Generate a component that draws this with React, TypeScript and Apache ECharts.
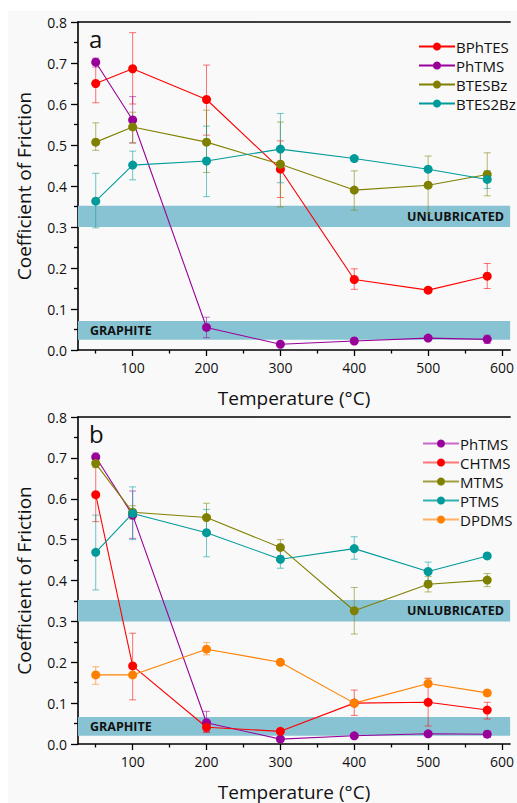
import React, { useEffect, useRef } from "react";
import * as echarts from "echarts";

const temps = [50, 100, 200, 300, 400, 500, 580];
const majorTicks = [100, 200, 300, 400, 500, 600];
const minorTicks = [50, 150, 250, 350, 450, 550];

// Panel a
const bphtes = [0.65, 0.686, 0.611, 0.441, 0.172, 0.146, 0.18];
const bphtesLo = [0.603, 0.6, 0.524, 0.372, 0.148, 0.14, 0.15];
const bphtesHi = [0.7, 0.774, 0.695, 0.51, 0.198, 0.152, 0.211];
const phtmsA = [0.702, 0.561, 0.055, 0.014, 0.022, 0.029, 0.026];
const phtmsALo = [0.69, 0.505, 0.03, 0.01, 0.018, 0.024, 0.016];
const phtmsAHi = [0.712, 0.618, 0.08, 0.018, 0.026, 0.034, 0.036];
const btesbz = [0.507, 0.544, 0.507, 0.453, 0.39, 0.402, 0.428];
const btesbzLo = [0.487, 0.505, 0.433, 0.349, 0.341, 0.333, 0.376];
const btesbzHi = [0.554, 0.58, 0.585, 0.556, 0.437, 0.473, 0.481];
const btes2bz = [0.363, 0.451, 0.461, 0.49, 0.467, 0.441, 0.416];
const btes2bzLo = [0.298, 0.415, 0.374, 0.408, 0.462, 0.437, 0.394];
const btes2bzHi = [0.431, 0.485, 0.546, 0.577, 0.472, 0.445, 0.437];

// Panel b
const phtmsB = [0.702, 0.56, 0.052, 0.012, 0.02, 0.025, 0.024];
const phtmsBLo = [0.692, 0.503, 0.03, 0.008, 0.016, 0.02, 0.016];
const phtmsBHi = [0.712, 0.619, 0.08, 0.016, 0.024, 0.03, 0.032];
const chtms = [0.61, 0.191, 0.041, 0.031, 0.1, 0.102, 0.083];
const chtmsLo = [0.544, 0.108, 0.028, 0.026, 0.07, 0.044, 0.061];
const chtmsHi = [0.685, 0.271, 0.052, 0.036, 0.132, 0.161, 0.102];
const mtms = [0.686, 0.567, 0.554, 0.481, 0.326, 0.391, 0.401];
const mtmsLo = [0.676, 0.55, 0.52, 0.46, 0.269, 0.372, 0.385];
const mtmsHi = [0.696, 0.583, 0.589, 0.5, 0.383, 0.41, 0.417];
const ptms = [0.469, 0.564, 0.517, 0.452, 0.478, 0.422, 0.46];
const ptmsLo = [0.377, 0.5, 0.458, 0.43, 0.452, 0.4, 0.455];
const ptmsHi = [0.56, 0.629, 0.574, 0.475, 0.507, 0.445, 0.465];
const dpdms = [0.169, 0.169, 0.232, 0.2, 0.1, 0.148, 0.125];
const dpdmsLo = [0.146, 0.165, 0.218, 0.196, 0.095, 0.14, 0.12];
const dpdmsHi = [0.189, 0.173, 0.248, 0.204, 0.105, 0.16, 0.13];

const unlubBand = [0.3, 0.352];
const graphiteBandA = [0.025, 0.071];
const graphiteBandB = [0.02, 0.066];

const FONT = "'Open Sans', 'Noto Sans', sans-serif";
const RED = "#ff0000";
const PURPLE = "#990099";
const OLIVE = "#808000";
const TEAL = "#009a9a";
const ORANGE = "#ff8000";
const BAND = "#88c3d3";

export default function App() {
  const ref = useRef<HTMLDivElement>(null);
  useEffect(() => {
    if (!ref.current) return;
    const chart = echarts.init(ref.current, null, { renderer: "svg" });

    const X_MIN = 26;
    const X_MAX = 611;

    const mkX = (gridIndex: number) => [
      {
        type: "value",
        gridIndex,
        min: X_MIN,
        max: X_MAX,
        position: "bottom",
        name: "Temperature (°C)",
        nameLocation: "middle",
        nameGap: 38,
        nameTextStyle: { fontFamily: FONT, fontSize: 19, color: "#111" },
        axisLine: { show: true, lineStyle: { color: "#000", width: 1.6 } },
        axisTick: { show: true, inside: false, length: 6, customValues: majorTicks, lineStyle: { color: "#000", width: 1.3 } },
        axisLabel: { show: true, customValues: majorTicks, margin: 10, fontFamily: FONT, fontSize: 14, color: "#111" },
        splitLine: { show: false },
      },
      {
        type: "value",
        gridIndex,
        min: X_MIN,
        max: X_MAX,
        position: "bottom",
        axisLine: { show: false },
        axisTick: { show: true, inside: false, length: 3.5, customValues: minorTicks, lineStyle: { color: "#000", width: 1.3 } },
        axisLabel: { show: false },
        splitLine: { show: false },
      },
      {
        type: "value",
        gridIndex,
        min: X_MIN,
        max: X_MAX,
        position: "top",
        axisLine: { show: true, lineStyle: { color: "#000", width: 1.6 } },
        axisTick: { show: false },
        axisLabel: { show: false },
        splitLine: { show: false },
      },
    ];

    const mkY = (gridIndex: number) => ({
      type: "value",
      gridIndex,
      min: 0,
      max: 0.8,
      interval: 0.1,
      name: "Coefficient of Friction",
      nameLocation: "middle",
      nameGap: 45,
      nameTextStyle: { fontFamily: FONT, fontSize: 19, color: "#111" },
      axisLine: { show: true, lineStyle: { color: "#000", width: 1.6 } },
      axisTick: { show: true, inside: false, length: 7, lineStyle: { color: "#000", width: 1.3 } },
      minorTick: { show: true, splitNumber: 2, length: 4, lineStyle: { color: "#000", width: 1.3 } },
      axisLabel: { margin: 11, fontFamily: FONT, fontSize: 14, color: "#111", formatter: (v: number) => v.toFixed(1) },
      splitLine: { show: false },
    });

    const lineSeries = (name: string, data: number[], color: string, xi: number, yi: number) => ({
      type: "line",
      name,
      xAxisIndex: xi,
      yAxisIndex: yi,
      data: temps.map((t, i) => [t, data[i]]),
      symbol: "circle",
      symbolSize: 9,
      itemStyle: { color },
      lineStyle: { color, width: 1.1 },
      z: 4,
    });

    const errSeries = (name: string, lo: number[], hi: number[], color: string, xi: number, yi: number) => ({
      type: "custom",
      name: name + " error",
      xAxisIndex: xi,
      yAxisIndex: yi,
      z: 3,
      data: temps.map((t, i) => [t, lo[i], hi[i]]),
      encode: { x: 0, y: [1, 2] },
      renderItem: (params: any, api: any) => {
        const x = api.value(0);
        const p1 = api.coord([x, api.value(2)]);
        const p2 = api.coord([x, api.value(1)]);
        const w = 3.5;
        const style = { stroke: color, lineWidth: 1, opacity: 0.55 };
        return {
          type: "group",
          children: [
            { type: "line", shape: { x1: p1[0], y1: p1[1], x2: p2[0], y2: p2[1] }, style },
            { type: "line", shape: { x1: p1[0] - w, y1: p1[1], x2: p1[0] + w, y2: p1[1] }, style },
            { type: "line", shape: { x1: p2[0] - w, y1: p2[1], x2: p2[0] + w, y2: p2[1] }, style },
          ],
        };
      },
    });

    const bandSeries = (xi: number, yi: number, graphite: number[]) => ({
      type: "line",
      name: "bands" + xi,
      xAxisIndex: xi,
      yAxisIndex: yi,
      data: [],
      z: 1,
      markArea: {
        silent: true,
        itemStyle: { color: BAND },
        label: { fontFamily: FONT, fontWeight: "bold", fontSize: 12.5, color: "#111" },
        data: [
          [
            { yAxis: unlubBand[0], name: "UNLUBRICATED", label: { position: "insideRight", distance: 6 } },
            { yAxis: unlubBand[1] },
          ],
          [
            { yAxis: graphite[0], name: "GRAPHITE", label: { position: "insideLeft", distance: 12 } },
            { yAxis: graphite[1] },
          ],
        ],
      },
    });

    const legendBase = {
      orient: "vertical",
      left: 413,
      itemWidth: 36,
      itemHeight: 10,
      itemGap: 4,
      textStyle: { fontFamily: FONT, fontSize: 15, color: "#111", padding: [0, 0, 0, -4] },
    };

    chart.setOption({
      animation: false,
      backgroundColor: "transparent",
      graphic: [
        { type: "rect", left: 8, top: 11, z: -10, shape: { width: 509, height: 792 }, style: { fill: "#f9f9f9" } },
        { type: "text", left: 89, top: 26, style: { text: "a", fontFamily: FONT, fontSize: 24, fill: "#111" } },
        { type: "text", left: 89, top: 421, style: { text: "b", fontFamily: FONT, fontSize: 24, fill: "#111" } },
      ],
      grid: [
        { left: 78, top: 22, width: 439, height: 328 },
        { left: 78, top: 417, width: 439, height: 327 },
      ],
      xAxis: [...mkX(0), ...mkX(1)],
      yAxis: [mkY(0), mkY(1)],
      legend: [
        { ...legendBase, top: 34, data: ["BPhTES", "PhTMS", "BTESBz", "BTES2Bz"] },
        {
          ...legendBase,
          top: 431,
          left: 417,
          data: [
            { name: "PhTMS", lineStyle: { color: "#cc66cc" } },
            { name: "CHTMS", lineStyle: { color: "#ff7777" } },
            { name: "MTMS", lineStyle: { color: "#a0a040" } },
            { name: "PTMS", lineStyle: { color: "#33b0b0" } },
            { name: "DPDMS", lineStyle: { color: "#ffb066" } },
          ],
        },
      ],
      series: [
        bandSeries(0, 0, graphiteBandA),
        bandSeries(3, 1, graphiteBandB),
        errSeries("BPhTES", bphtesLo, bphtesHi, RED, 0, 0),
        errSeries("PhTMS a", phtmsALo, phtmsAHi, PURPLE, 0, 0),
        errSeries("BTESBz", btesbzLo, btesbzHi, OLIVE, 0, 0),
        errSeries("BTES2Bz", btes2bzLo, btes2bzHi, TEAL, 0, 0),
        lineSeries("BPhTES", bphtes, RED, 0, 0),
        lineSeries("PhTMS", phtmsA, PURPLE, 0, 0),
        lineSeries("BTESBz", btesbz, OLIVE, 0, 0),
        lineSeries("BTES2Bz", btes2bz, TEAL, 0, 0),
        errSeries("PhTMS b", phtmsBLo, phtmsBHi, PURPLE, 3, 1),
        errSeries("CHTMS", chtmsLo, chtmsHi, RED, 3, 1),
        errSeries("MTMS", mtmsLo, mtmsHi, OLIVE, 3, 1),
        errSeries("PTMS", ptmsLo, ptmsHi, TEAL, 3, 1),
        errSeries("DPDMS", dpdmsLo, dpdmsHi, ORANGE, 3, 1),
        lineSeries("PhTMS", phtmsB, PURPLE, 3, 1),
        lineSeries("CHTMS", chtms, RED, 3, 1),
        lineSeries("MTMS", mtms, OLIVE, 3, 1),
        lineSeries("PTMS", ptms, TEAL, 3, 1),
        lineSeries("DPDMS", dpdms, ORANGE, 3, 1),
      ],
    });
    return () => chart.dispose();
  }, []);
  return (
    <div
      ref={ref}
      style={{ position: "absolute", left: 0, top: 0, width: 517, height: 803, background: "#fff", overflow: "hidden" }}
    />
  );
}
